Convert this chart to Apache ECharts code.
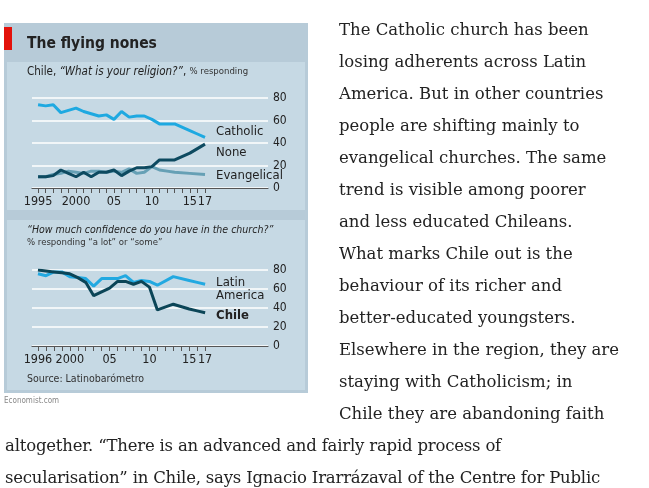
<!DOCTYPE html>
<html>
<head>
<meta charset="utf-8">
<script src="https://cdn.jsdelivr.net/npm/echarts@6/dist/echarts.min.js"></script>
<style>
body{margin:0;padding:0;background:#fff;}
#chart{position:absolute;left:0;top:0;width:649px;height:488px;}
.txt{position:absolute;font-family:"DejaVu Serif",serif;font-size:16.5px;line-height:32px;color:#222;white-space:nowrap;}
</style>
</head>
<body>
<div id="chart"></div>
<div class="txt" style="left:339px;top:14px;">The Catholic church has been<br>losing adherents across Latin<br>America. But in other countries<br>people are shifting mainly to<br>evangelical churches. The same<br>trend is visible among poorer<br>and less educated Chileans.<br>What marks Chile out is the<br>behaviour of its richer and<br>better-educated youngsters.<br>Elsewhere in the region, they are<br>staying with Catholicism; in<br>Chile they are abandoning faith</div>
<div class="txt" style="left:5px;top:430px;letter-spacing:-0.2px;">altogether. “There is an advanced and fairly rapid process of<br>secularisation” in Chile, says Ignacio Irarrázaval of the Centre for Public</div>
<script>
// chart 1: religion
var catholic = [[1995,74],[1996,73],[1997,74],[1998,67],[1999,69],[2000,71],[2001,68],[2002,66],[2003,64],[2004,65],[2005,61],[2006,68],[2007,63],[2008,64],[2009,64],[2010,61],[2011,57],[2012,57],[2013,57],[2015,51],[2016,48],[2017,45]];
var none = [[1995,10],[1996,10],[1997,11],[1998,16],[1999,13],[2000,10],[2001,14],[2002,10],[2003,14],[2004,14],[2005,16],[2006,11],[2007,15],[2008,18],[2009,18],[2010,19],[2011,25],[2012,25],[2013,25],[2015,31],[2016,35],[2017,39]];
var evangelical = [[1995,10],[1996,10],[1997,12],[1998,13],[1999,15],[2000,14],[2001,13],[2002,15],[2003,15],[2004,14],[2005,15],[2006,14],[2007,17],[2008,13],[2009,14],[2010,19],[2011,16],[2012,15],[2013,14],[2015,13],[2017,12]];
// chart 2: confidence
var latinAmerica = [[1996,76],[1997,74],[1998,78],[1999,78],[2000,73],[2001,72],[2002,71],[2003,63],[2004,71],[2005,71],[2006,71],[2007,74],[2008,67],[2009,69],[2010,68],[2011,64],[2013,73],[2015,69],[2016,67],[2017,65]];
var chile = [[1996,80],[1997,79],[1998,78],[1999,77],[2000,76],[2001,72],[2002,67],[2003,53],[2004,57],[2005,61],[2006,68],[2007,68],[2008,65],[2009,68],[2010,62],[2011,38],[2013,44],[2015,39],[2016,37],[2017,35]];
var ticks1 = [];
for (var y = 1995; y <= 2017; y++) ticks1.push(y);
var ticks2 = ticks1.slice(1);
var labels1 = [1995,2000,2005,2010,2015,2017];
var labels2 = [1996,2000,2005,2010,2015,2017];

var F = '"DejaVu Sans Condensed","DejaVu Sans",sans-serif';
function yrFmt(v){ v = Math.round(v); return (v==1995||v==1996||v==2000) ? String(v) : String(v).slice(2); }
function xAx(idx,min,max,ticks,labels){
  return {type:'value',gridIndex:idx,min:min,max:max,
    axisLine:{lineStyle:{color:'#555',width:1.2}},
    axisTick:{customValues:ticks,length:5,lineStyle:{color:'#555'}},
    axisLabel:{customValues:labels,formatter:yrFmt,color:'#222',fontFamily:F,fontSize:12.5,margin:7},
    splitLine:{show:false}};
}
function yAx(idx){
  return {type:'value',gridIndex:idx,position:'right',min:0,max:80,interval:20,
    axisLine:{show:false},axisTick:{show:false},
    axisLabel:{color:'#222',fontFamily:F,fontSize:12,margin:5},
    splitLine:{lineStyle:{color:'#fff',width:1.5}}};
}
function ln(name,data,color,x,y,lab){
  return {name:name,type:'line',xAxisIndex:x,yAxisIndex:y,data:data,showSymbol:false,
    lineStyle:{color:color,width:3},itemStyle:{color:color},z:lab.z||2,
    endLabel:{show:true,formatter:lab.text,offset:lab.off,color:'#222',fontFamily:F,fontSize:13,fontWeight:lab.bold?'bold':'normal',lineHeight:13}};
}
var chart = echarts.init(document.getElementById('chart'));
chart.setOption({
  animation:false,
  graphic:[
    {type:'rect',shape:{x:4,y:23,width:304,height:370},style:{fill:'#b7cbd8'},z:-10},
    {type:'rect',shape:{x:7,y:62,width:298,height:148},style:{fill:'#c6d9e4'},z:-9},
    {type:'rect',shape:{x:7,y:220,width:298,height:170},style:{fill:'#c6d9e4'},z:-9},
    {type:'rect',shape:{x:4,y:27,width:8,height:23},style:{fill:'#e3120b'}},
    {type:'text',left:27,top:36,style:{text:'The flying nones',font:'bold 15.5px '+F,fill:'#222'}},
    {type:'text',left:27,top:66,style:{rich:{a:{font:'11.5px '+F,fill:'#222'},b:{font:'italic 11.5px '+F,fill:'#222'},c:{font:'9.5px '+F,fill:'#333'}},text:'{a|Chile, }{b|“What is your religion?”}{a|, }{c|% responding}'}},
    {type:'text',left:27,top:225,style:{text:'“How much confidence do you have in the church?”',font:'italic 10.5px '+F,fill:'#222'}},
    {type:'text',left:27,top:238,style:{text:'% responding “a lot” or “some”',font:'9.5px '+F,fill:'#333'}},
    {type:'text',left:27,top:374,style:{text:'Source: Latinobarómetro',font:'10.5px '+F,fill:'#333'}},
    {type:'text',left:4,top:397,style:{text:'Economist.com',font:'8px '+F,fill:'#888'}}
  ],
  grid:[
    {left:32,width:236,top:98,height:90},
    {left:32,width:236,top:270,height:76}
  ],
  xAxis:[xAx(0,1994.2,2025.3,ticks1,labels1),xAx(1,1995.25,2024.9,ticks2,labels2)],
  yAxis:[yAx(0),yAx(1)],
  series:[
    ln('Evangelical',evangelical,'rgba(70,140,165,0.75)',0,0,{text:'Evangelical',off:[3,1]}),
    ln('Catholic',catholic,'#1ea9e1',0,0,{text:'Catholic',off:[3,-6]}),
    ln('None',none,'#0d4a60',0,0,{text:'None',off:[3,8],z:3}),
    ln('Latin America',latinAmerica,'#22a9e1',1,1,{text:'Latin\nAmerica',off:[3,5]}),
    ln('Chile',chile,'#0b4557',1,1,{text:'Chile',off:[3,3],bold:true,z:3})
  ]
});
</script>
</body>
</html>
